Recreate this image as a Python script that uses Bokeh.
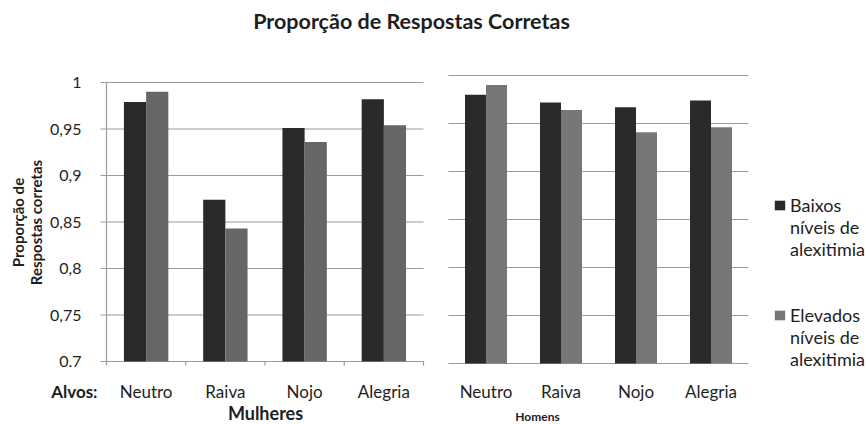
import math
from bokeh.plotting import figure
from bokeh.models import Range1d, Label, Legend, LegendItem, ColumnDataSource
from bokeh.core.properties import value
from bokeh.transform import dodge
from bokeh.embed import file_html
from bokeh.resources import INLINE

# ---------------- data ----------------
title_text = "Proporção de Respostas Corretas"
targets = ["Neutro", "Raiva", "Nojo", "Alegria"]
legend_lines = [["Baixos", "níveis de", "alexitimia"],
                ["Elevados", "níveis de", "alexitimia"]]
women_low = [0.979, 0.874, 0.951, 0.982]
women_high = [0.990, 0.843, 0.936, 0.954]
men_low = [0.980, 0.972, 0.967, 0.974]
men_high = [0.990, 0.964, 0.941, 0.946]
y_ticks = [0.7, 0.75, 0.8, 0.85, 0.9, 0.95, 1.0]
y_tick_labels = ["0.7", "0,75", "0,8", "0,85", "0,9", "0,95", "1"]
y_axis_title = "Proporção de\nRespostas corretas"
x_prefix = "Alvos:"
panel_titles = ["Mulheres", "Homens"]

# ---------------- style / layout ----------------
W, H = 866, 424
FONT = "Lato"
DARK = "#2a2a2a"
GRAY_L = "#666666"
GRAY_R = "#777777"
GRID = "#9a9a9a"
TXT = "#1e1e1e"
BAR_W = 0.28
LW = 1.2


def pix_range(px_a, px_b, v_a, v_b, total):
    """Range whose value v_a sits at pixel px_a and v_b at px_b (pixels from the start)."""
    per = (px_b - px_a) / (v_b - v_a)
    start = v_a - px_a / per
    return Range1d(start, start + total / per)


n = len(targets)
centers = [i + 0.5 for i in range(n)]
bounds = list(range(n + 1))
y0, y1 = y_ticks[0], y_ticks[-1]

p = figure(width=W, height=H, min_border=0, x_axis_type=None, y_axis_type=None,
           x_range=pix_range(106, 423, 0, n, W),
           y_range=pix_range(H - 361, H - 82, y0, y1, H),
           output_backend="svg", toolbar_location=None)
p.extra_x_ranges = {"mx": pix_range(448, 748, 0, n, W)}
p.extra_y_ranges = {"my": pix_range(H - 363, H - 75, y0, y1, H)}
p.outline_line_color = None
p.background_fill_color = "white"

panels = [
    dict(low=women_low, high=women_high, gray=GRAY_L, xr="default", yr="default", off=30),
    dict(low=men_low, high=men_high, gray=GRAY_R, xr="mx", yr="my", off=28),
]
bar_renderers = []
for pan in panels:
    kw = dict(x_range_name=pan["xr"], y_range_name=pan["yr"])
    # horizontal grid lines
    gsrc = ColumnDataSource(dict(y=y_ticks))
    p.segment(x0=0, x1=n, y0="y", y1="y", source=gsrc, line_color=GRID, line_width=LW, **kw)
    # bars
    src = ColumnDataSource(dict(x=centers, low=pan["low"], high=pan["high"]))
    r1 = p.vbar(x=dodge("x", -BAR_W / 2), top="low", bottom=y0, width=BAR_W, source=src,
                fill_color=DARK, line_color=None, **kw)
    r2 = p.vbar(x=dodge("x", BAR_W / 2), top="high", bottom=y0, width=BAR_W, source=src,
                fill_color=pan["gray"], line_color=None, **kw)
    bar_renderers.append((r1, r2))
    # category labels
    lsrc = ColumnDataSource(dict(x=centers, t=targets))
    p.text(x="x", y=y0, text="t", source=lsrc, y_offset=pan["off"], text_align="center",
           text_baseline="middle", text_font=value(FONT), text_font_size="17px",
           text_color=TXT, **kw)

# women: y axis line, ticks, labels and category boundary ticks
p.segment(x0=0, x1=0, y0=y0, y1=y1, line_color=GRID, line_width=LW)
tsrc = ColumnDataSource(dict(y=y_ticks, t=y_tick_labels))
p.ray(x=0, y="y", source=tsrc, length=6, length_units="screen", angle=math.pi,
      line_color=GRID, line_width=LW)
p.text(x=0, y="y", text="t", source=tsrc, x_offset=-25, text_align="right",
       text_baseline="middle", text_font=value(FONT), text_font_size="16px", text_color=TXT)
bsrc = ColumnDataSource(dict(x=bounds))
p.ray(x="x", y=y0, source=bsrc, length=4, length_units="screen", angle=-math.pi / 2,
      line_color=GRID, line_width=LW)


def label(text, x, y, size, bold=True, align="center", angle=0.0, lh=1.2):
    p.add_layout(Label(x=x, y=y, x_units="screen", y_units="screen", text=text,
                       text_align=align, text_baseline="middle", angle=angle,
                       text_font=FONT, text_font_style="bold" if bold else "normal",
                       text_font_size=size, text_color=TXT, text_line_height=lh))


label(title_text, 411, H - 20.3, "21.5px")
label(y_axis_title, 26.5, H - 222, "15px", angle=math.pi / 2, lh=1.05)
label(x_prefix, 97, H - 391, "17px", align="right")
label(panel_titles[0], 265, H - 412.5, "18px")
label(panel_titles[1], 537, H - 415.5, "12px")

# legend (right panel renderers)
for lines, rend, top in zip(legend_lines, bar_renderers[1], [194, 304]):
    items = [LegendItem(label=lines[0], renderers=[rend])] + \
            [LegendItem(label=s) for s in lines[1:]]
    p.add_layout(Legend(items=items, location=(773, H - top - 66), orientation="vertical",
                        border_line_color=None, background_fill_alpha=0,
                        padding=0, margin=0, spacing=0, label_height=22,
                        glyph_width=13, glyph_height=12, label_standoff=4,
                        label_text_font=FONT, label_text_font_size="18px",
                        label_text_color=TXT), "center")

open("out.html", "w").write(file_html(p, INLINE))
